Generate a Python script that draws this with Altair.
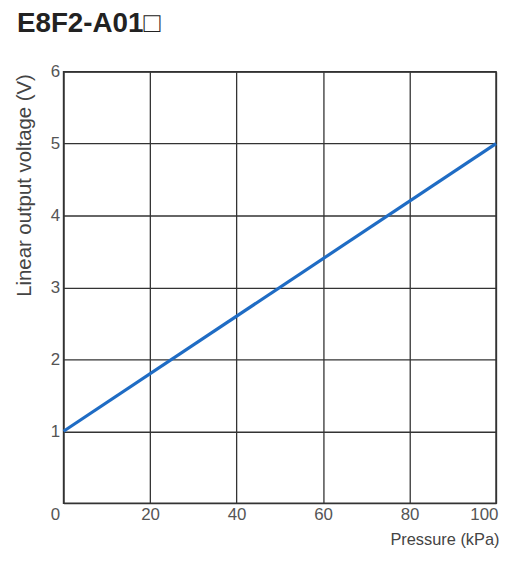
import altair as alt
import pandas as pd

pressure = [0, 100]
voltage = [1, 5]
x_ticks = [0, 20, 40, 60, 80, 100]
y_ticks = [0, 1, 2, 3, 4, 5, 6]

df = pd.DataFrame({"p": pressure, "v": voltage})

FONT = "Liberation Sans"

chart = (
    alt.Chart(df)
    .mark_line(color="#1f6cc4", strokeWidth=3.2)
    .encode(
        x=alt.X(
            "p:Q",
            scale=alt.Scale(domain=[0, 100], nice=False),
            axis=alt.Axis(
                values=x_ticks,
                title="Pressure (kPa)",
                titleAlign="right",
                titleBaseline="alphabetic",
                titleX=439,
                titleY=42,
                titleFontWeight="normal",
                titleFontSize=16.5,
                titleColor="#444",
                labelFontSize=17,
                labelColor="#555",
                labelPadding=3,
                labelAlign={"expr": "datum.value == 0 ? 'right' : (datum.value == 100 ? 'right' : 'center')"},
                labelOffset={"expr": "datum.value == 0 ? -4 : (datum.value == 100 ? 2 : 0)"},
                labelFlush=False,
                ticks=False,
                domain=False,
                grid=True,
                gridColor="#333",
                gridWidth=1.3,
            ),
        ),
        y=alt.Y(
            "v:Q",
            scale=alt.Scale(domain=[0, 6], nice=False),
            axis=alt.Axis(
                values=y_ticks,
                labelExpr="datum.value == 0 ? '' : datum.label",
                title="Linear output voltage (V)",
                titleAnchor="end",
                titleAlign="right",
                titleY=2,
                titleX=-29,
                titleFontWeight="normal",
                titleFontSize=20.5,
                titleColor="#444",
                labelFontSize=17,
                labelColor="#555",
                labelPadding=4,
                labelFlush=False,
                ticks=False,
                domain=False,
                grid=True,
                gridColor="#333",
                gridWidth=1.3,
            ),
        ),
    )
    .properties(
        width=436,
        height=435,
        title=alt.TitleParams(
            "E8F2-A01□",
            anchor="start",
            frame="group",
            dx=-47,
            offset=25,
            fontSize=28,
            fontWeight="bold",
            font="Liberation Sans, Noto Sans CJK JP",
            color="#222",
        ),
        autosize=alt.AutoSizeParams(type="none"),
        padding={"left": 56, "top": 62, "right": 3, "bottom": 46},
    )
    .configure(font=FONT)
    .configure_view(stroke="#333", strokeWidth=1.5)
)

chart.save("out.html", embed_options={"renderer": "svg", "actions": False})
